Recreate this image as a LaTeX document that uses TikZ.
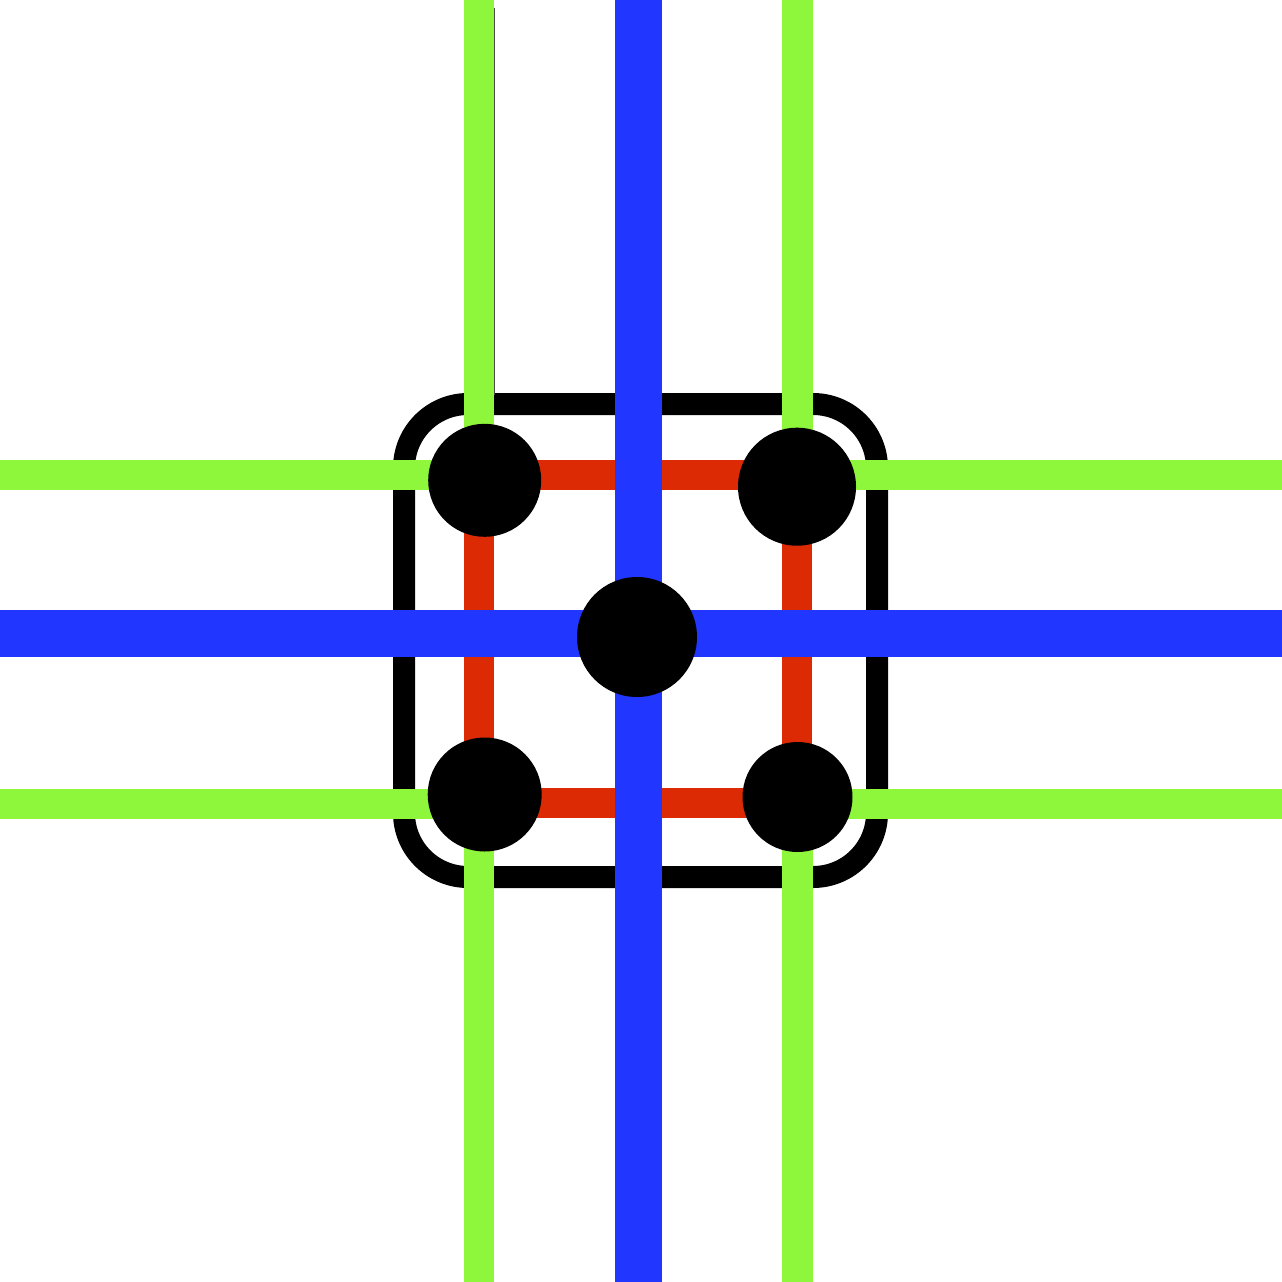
\documentclass[tikz,border=0pt]{standalone}
\definecolor{limeg}{RGB}{143,247,59}
\definecolor{blueln}{RGB}{33,54,255}
\definecolor{redln}{RGB}{220,42,4}
\begin{document}
\begin{tikzpicture}[x=1pt,y=-1pt,
  greenline/.style={draw=limeg, line width=30.5pt},
  blueline/.style={draw=blueln, line width=47pt},
  redline/.style={draw=redln, line width=30pt, line join=miter},
  frame/.style={draw=black, line width=22pt, rounded corners=64pt},
  dot/.style={circle, fill=black, inner sep=0pt, draw=none},
  hair/.style={draw=black!70, line width=1.2pt}]
\useasboundingbox (0,0) rectangle (1282,1282);
\clip (0,0) rectangle (1282,1282);
% dots (positions; drawn on top later)
\coordinate (tlc) at (484.7,480.3);
\coordinate (trc) at (797,486.7);
\coordinate (cc)  at (637,637);
\coordinate (blc) at (484.7,794.5);
\coordinate (brc) at (797.5,797);
% frame
\draw[frame] (404,404) rectangle (877,877);
% thin hairline artifact
\coordinate (h1) at (494.5,8);
\coordinate (h2) at (494.5,395);
\draw[hair] (h1) -- (h2);
% red square
\coordinate (r1) at (478.5,474.5);
\coordinate (r2) at (797,474.5);
\coordinate (r3) at (797,803);
\coordinate (r4) at (478.5,803);
\draw[redline] (r1) -- (r2) -- (r3) -- (r4) -- cycle;
% green lines (from picture edge to the dots)
\coordinate (gtl) at (479,0);     \coordinate (gbl) at (479,1282);
\coordinate (gtr) at (797.5,0);   \coordinate (gbr) at (797.5,1282);
\coordinate (glt) at (0,475);     \coordinate (grt) at (1282,475);
\coordinate (glb) at (0,804);     \coordinate (grb) at (1282,804);
\draw[greenline] (gtl) -- (gtl |- tlc);
\draw[greenline] (gbl) -- (gbl |- blc);
\draw[greenline] (gtr) -- (gtr |- trc);
\draw[greenline] (gbr) -- (gbr |- brc);
\draw[greenline] (glt) -- (glt -| tlc);
\draw[greenline] (grt) -- (grt -| trc);
\draw[greenline] (glb) -- (glb -| blc);
\draw[greenline] (grb) -- (grb -| brc);
% blue lines
\coordinate (bva) at (638,0);   \coordinate (bvb) at (638,1282);
\coordinate (bha) at (0,633.5); \coordinate (bhb) at (1282,633.5);
\draw[blueline] (bva) -- (bvb);
\draw[blueline] (bha) -- (bhb);
% dots
\node[dot, minimum size=113pt] (tl) at (tlc) {};
\node[dot, minimum size=118pt] (tr) at (trc) {};
\node[dot, minimum size=120pt] (c)  at (cc) {};
\node[dot, minimum size=114pt] (bl) at (blc) {};
\node[dot, minimum size=110pt] (br) at (brc) {};
\end{tikzpicture}
\end{document}
